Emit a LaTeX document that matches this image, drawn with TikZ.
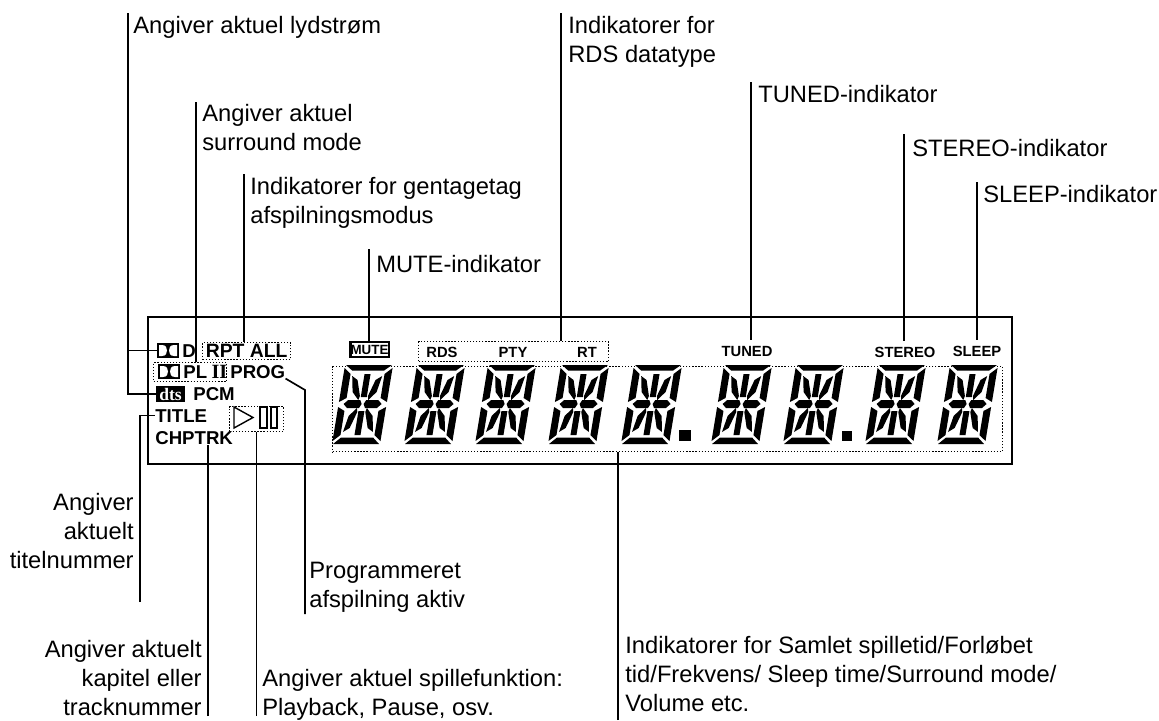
\documentclass[tikz,border=0pt]{standalone}
\usepackage{fontspec}
\setmainfont{Liberation Sans}
\newfontfamily\serifdts{Liberation Serif}
\tikzset{
    leader/.style={line width=0.95pt, line cap=butt},
    callout/.style={inner sep=0pt, font=\fontsize{13.5}{16.5}\selectfont},
    panel/.style={inner sep=0pt, font=\fontsize{10.6}{12}\selectfont\bfseries},
    ledtag/.style={inner sep=0pt, inner ysep=3pt, font=\fontsize{8.4}{10}\selectfont\bfseries},
    dotbox/.style={draw, line width=0.75pt, densely dotted, inner sep=0pt},
    pics/lcddigit/.style={code={
        \begin{scope}[x=0.02cm, y=0.02cm, xslant=0.165]
            \fill (1,79)--(47,79)--(40,73.5)--(8,73.5)--cycle (1,0)--(47,0)--(40,6.5)--(8,6.5)--cycle;
            \fill (0,76)--(7,70)--(7,46)--(0,42)--cycle (0,37)--(7,33)--(7,9)--(0,3)--cycle;
            \fill (48,76)--(41,70)--(41,46)--(48,42)--cycle (48,37)--(41,33)--(41,9)--(48,3)--cycle;
            \fill (5,40)--(9,44)--(21,44)--(23,40)--(21,36)--(9,36)--cycle (25,40)--(27,44)--(39,44)--(43,40)--(39,36)--(27,36)--cycle;
            \fill (21,70)--(27,70)--(27,47)--(21,47)--cycle (21,33)--(27,33)--(27,9)--(21,9)--cycle;
            \fill (9,68)--(15,64)--(20,48)--(19,44)--(12,52)--cycle (39,68)--(33,64)--(28,48)--(29,44)--(36,52)--cycle;
            \fill (9,12)--(15,16)--(20,32)--(19,36)--(12,28)--cycle (39,12)--(33,16)--(28,32)--(29,36)--(36,28)--cycle;
        \end{scope}
    }},
    pics/dolbylogo/.style={code={
        \begin{scope}[x=0.02cm, y=-0.02cm]
            \fill (0,0) rectangle (22,15);
            \fill[white] (2,2) -- (5,2) .. controls (9,2) and (10,5) .. (10,7.5) .. controls (10,10) and (9,13) .. (5,13) -- (2,13) -- cycle;
            \fill[white] (20,2) -- (17,2) .. controls (13,2) and (12,5) .. (12,7.5) .. controls (12,10) and (13,13) .. (17,13) -- (20,13) -- cycle;
        \end{scope}
    }},
}
\begin{document}
\begin{tikzpicture}[x=0.02cm, y=-0.02cm]
    \useasboundingbox (0,0) rectangle (1159,720);

    % --- leader ends ---
    \coordinate (lydtop) at (128,13); \coordinate (surtop) at (196,102); \coordinate (rpttop) at (244,174);
    \coordinate (mutetop) at (369,249); \coordinate (rdstop) at (561,13); \coordinate (tunedtop) at (751,82);
    \coordinate (stereotop) at (904,134); \coordinate (sleeptop) at (977,182);
    \coordinate (titlefoot) at (140,602); \coordinate (progfoot) at (305,614); \coordinate (progknee) at (305,390);
    \coordinate (trackfoot) at (208,716); \coordinate (playfoot) at (256.5,716); \coordinate (dispfoot) at (618,720);

    % --- display panel ---
    \draw[line width=1.3pt] (148,317) rectangle (1012,464);
    \node[dotbox, anchor=north west, minimum width=13.4cm, minimum height=1.7cm] (dispbox) at (332,366) {};
    \foreach \dx in {332,404,475,548,621,711,783,865,937} \pic at (\dx,444) {lcddigit};
    \fill (679,430) rectangle (691,441); \fill (842,431) rectangle (852,441);

    % Left indicators
    \pic at (157,343) {dolbylogo};
    \coordinate (dolbyd) at (157,350.5);
    \node[panel, anchor=base west] (dtxt) at (182,357) {D};
    \node[dotbox, anchor=north west, minimum width=1.76cm, minimum height=0.34cm, font=\fontsize{11}{12}\selectfont\bfseries] (rptbox) at (202,342) {RPT ALL};
    \node[dotbox, anchor=north west, minimum width=1.46cm, minimum height=0.38cm] (plbox) at (153,362) {};
    \pic at (158,364) {dolbylogo};
    \node[panel, anchor=base west] (pltxt) at (183,378) {PL\hspace{2.5pt}{\fontsize{11.5}{12}\serifdts II}};
    \node[panel, anchor=base west] (prog) at (230,378) {PROG};
    \node[fill=black, text=white, inner sep=0pt, minimum width=0.58cm, minimum height=0.32cm, font=\fontsize{10}{10}\serifdts\bfseries] (dts) at (170.5,394) {dts};
    \node[panel, anchor=base west] (pcm) at (193,400) {PCM};
    \node[panel, anchor=base west] (title) at (155,422) {TITLE};
    \node[panel, anchor=base west] (chptrk) at (155,444) {CHPTRK};
    \node[dotbox, anchor=north west, minimum width=1.08cm, minimum height=0.5cm] (playbox) at (229,406) {};
    \draw[line width=0.8pt] (234,407) -- (253,417.5) -- (234,428) -- cycle;
    \draw[line width=0.8pt] (260,407) rectangle (267,428); \draw[line width=0.8pt] (271,407) rectangle (277,428);

    % Top row tags
    \node[draw, line width=1.2pt, inner sep=0pt, minimum width=0.78cm, minimum height=0.3cm, font=\fontsize{7.6}{9}\selectfont\bfseries] (mutebox) at (369.5,349.5) {MUTE};
    \fill (349,341) rectangle (352,358);
    \node[dotbox, anchor=north west, minimum width=3.8cm, minimum height=0.4cm] (rdsbox) at (418,341) {};
    \node[ledtag] (rds) at (442,352) {RDS}; \node[ledtag] (pty) at (513,352) {PTY}; \node[ledtag] (rt) at (587,352) {RT};
    \node[ledtag] (tuned) at (747,351) {TUNED}; \node[ledtag] (stereo) at (905,352) {STEREO}; \node[ledtag] (sleep) at (977,351) {SLEEP};

    % --- callouts ---
    \node[callout, anchor=base west] (lydlbl) at (133,33) {Angiver aktuel lydstrøm};
    \node[callout, anchor=base west, align=left] (surlbl) at (202,150) {Angiver aktuel\\surround mode};
    \node[callout, anchor=base west, align=left] (rptlbl) at (250,223) {Indikatorer for gentagetag\\afspilningsmodus};
    \node[callout, anchor=base west] (mutelbl) at (376,272) {MUTE-indikator};
    \node[callout, anchor=base west, align=left] (rdslbl) at (568,62) {Indikatorer for\\RDS datatype};
    \node[callout, anchor=base west] (tunedlbl) at (758,102) {TUNED-indikator};
    \node[callout, anchor=base west] (stereolbl) at (912,156) {STEREO-indikator};
    \node[callout, anchor=base west] (sleeplbl) at (983,202) {SLEEP-indikator};
    \node[callout, anchor=base east, align=right] (titlelbl) at (134,568) {Angiver\\aktuelt\\titelnummer};
    \node[callout, anchor=base west, align=left] (proglbl) at (309,607) {Programmeret\\afspilning aktiv};
    \node[callout, anchor=base east, align=right] (tracklbl) at (202,715) {Angiver aktuelt\\kapitel eller\\tracknummer};
    \node[callout, anchor=base west, align=left] (playlbl) at (262,715) {Angiver aktuel spillefunktion:\\Playback, Pause, osv.};
    \node[callout, anchor=base west, align=left] (displbl) at (625,711) {Indikatorer for Samlet spilletid/Forløbet\\tid/Frekvens/ Sleep time/Surround mode/\\Volume etc.};

    % --- leaders ---
    \draw[leader] (lydtop) |- (dolbyd);
    \draw[leader] (lydtop) |- (dts.west);
    \draw[leader] (surtop) -- (surtop |- plbox.north);
    \draw[leader] (rpttop) -- (rpttop |- rptbox.north);
    \draw[leader] (mutetop) -- (mutetop |- mutebox.north);
    \draw[leader] (rdstop) -- (rdstop |- rdsbox.north);
    \draw[leader] (tunedtop) -- (tunedtop |- tuned.north);
    \draw[leader] (stereotop) -- (stereotop |- stereo.north);
    \draw[leader] (sleeptop) -- (sleeptop |- sleep.north);
    \draw[leader] (titlefoot) |- (title.west);
    \draw[leader] (trackfoot) -- (trackfoot |- chptrk.south);
    \draw[leader] (playfoot) -- (playfoot |- playbox.south);
    \draw[leader] (progfoot) -- (progknee) -- (prog.south east);
    \draw[leader] (dispfoot) -- (dispfoot |- dispbox.south);
\end{tikzpicture}
\end{document}
